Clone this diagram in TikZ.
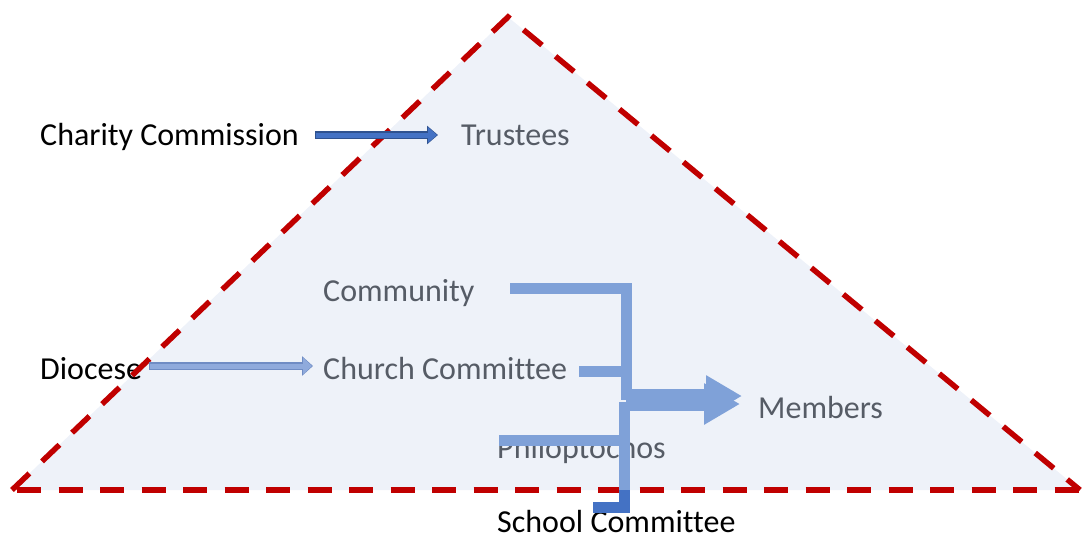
\documentclass[tikz,border=0pt]{standalone}
\usepackage{fontspec}
\setmainfont{Carlito}[Ligatures=NoCommon]
\usetikzlibrary{arrows.meta,calc}
\definecolor{trifill}{RGB}{238,242,249}
\definecolor{dashred}{RGB}{192,0,0}
\definecolor{grtext}{RGB}{86,92,102}
\definecolor{conn}{RGB}{127,161,216}
\definecolor{conndark}{RGB}{68,114,196}
\definecolor{arrdark}{RGB}{68,114,196}
\definecolor{arrdarkline}{RGB}{47,82,143}
\definecolor{arrlight}{RGB}{143,170,220}
\definecolor{arrlightline}{RGB}{111,140,196}
\begin{document}
\begin{tikzpicture}[x=1pt,y=-1pt,
  lbl/.style={inner sep=0pt,anchor=base west,font=\fontsize{32}{36}\selectfont},
  blk/.style={lbl,text=black},
  gry/.style={lbl,text=grtext},
  reddash/.style={dashred,line width=5.5pt,dash pattern=on 24pt off 17.5pt,line join=miter},
  conline/.style={draw=conn,line width=11pt,line join=miter,line cap=butt},
  condark/.style={draw=conndark,line width=11pt,line join=miter,line cap=butt},
  arrAout/.style={draw=arrdarkline,line width=7.5pt,-{Triangle[length=11pt,width=18pt]}},
  arrAin/.style={draw=arrdark,line width=5pt,shorten >=1pt,-{Triangle[length=9pt,width=15pt]}},
  arrBout/.style={draw=arrlightline,line width=7.5pt,-{Triangle[length=11pt,width=19pt]}},
  arrBin/.style={draw=arrlight,line width=5pt,shorten >=1pt,-{Triangle[length=9pt,width=16pt]}},
  bigarr/.style={draw=conn,line width=14pt,-{Triangle[length=36pt,width=39pt]}}
]
\useasboundingbox (0,0) rectangle (1084,539);
% triangle
\coordinate (apex) at (508,17);
\coordinate (bl) at (12,490);
\coordinate (br) at (1080,490);
\fill[trifill] (apex) -- (br) -- (bl) -- cycle;
% outside labels
\node[blk] (cc) at (40,145) {Charity Commission};
\node[blk] (dio) at (40,379) {Diocese};
\node[blk] (sc) at (497,532) {School Committee};
% inside labels
\node[gry] (tr) at (461,145) {Trustees};
\node[gry] (com) at (323,301) {Community};
\node[gry] (ch) at (323,379) {Church Committee};
\node[gry] (mem) at (758,418) {Members};
\node[gry] (ph) at (497,458) {Philoptochos};
% dashed border
\draw[reddash] (bl) -- (apex) -- (br);
\draw[reddash] ($(bl)+(5,0)$) -- (br);
% small arrows
\draw[arrAout] (315,135) -- ($(tr.base west)+(-23,-10)$);
\draw[arrAin] (316,135) -- ($(tr.base west)+(-23,-10)$);
\draw[arrBout] ($(dio.base east)+(7,-13)$) -- ($(ch.base west)+(-10,-13)$);
\draw[arrBin] ($(dio.base east)+(8,-13)$) -- ($(ch.base west)+(-10,-13)$);
% connectors to members
\coordinate (j1) at (626,400);
\coordinate (j2) at (624,402);
\draw[conline] (510,288) -| (j1);
\draw[conline] (579,371) -- (630,371);
\draw[conline] ($(ph.base west)+(2,-18)$) -- (624,440);
\coordinate (basej) at (624,490);
\draw[conline] (j2) -- (basej);
\draw[condark] (593,507.5) -| (basej);
\draw[bigarr] ($(j1)+(0,-4)$) -- ($(mem.base west)+(-16,-22)$);
\draw[bigarr] ($(j1)+(0,4)$) -- ($(mem.base west)+(-18,-14)$);
\end{tikzpicture}
\end{document}
